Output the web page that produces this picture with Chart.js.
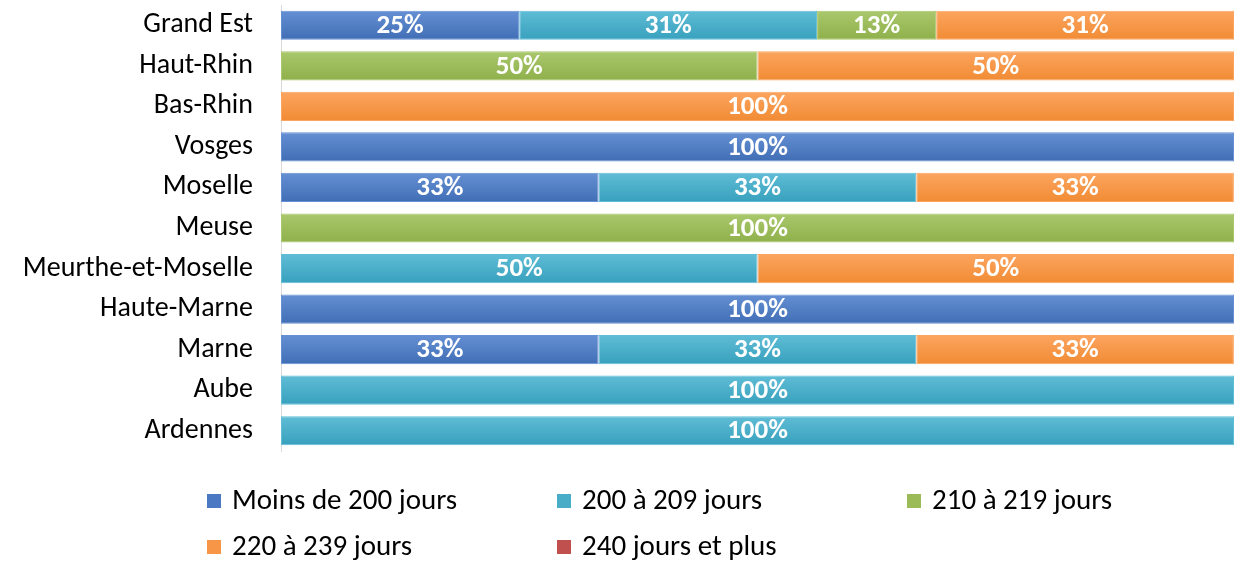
<!DOCTYPE html>
<html>
<head>
<meta charset="utf-8">
<script src="https://cdn.jsdelivr.net/npm/chart.js@4"></script>
<style>
  html, body { margin: 0; padding: 0; background: #fff; }
  #wrap { width: 1234px; height: 563px; }
</style>
</head>
<body>
<div id="wrap"><canvas id="joursGraph"></canvas></div>
<script>
let categories = ['Grand Est', 'Haut-Rhin', 'Bas-Rhin', 'Vosges', 'Moselle', 'Meuse',
  'Meurthe-et-Moselle', 'Haute-Marne', 'Marne', 'Aube', 'Ardennes'];
let seriesNames = ['Moins de 200 jours', '200 à 209 jours', '210 à 219 jours', '220 à 239 jours', '240 jours et plus'];
let moins200 = [25, 0, 0, 100, 33.33, 0, 0, 100, 33.33, 0, 0];
let de200a209 = [31.25, 0, 0, 0, 33.33, 0, 50, 0, 33.33, 100, 100];
let de210a219 = [12.5, 50, 0, 0, 0, 100, 0, 0, 0, 0, 0];
let de220a239 = [31.25, 50, 100, 0, 33.33, 0, 50, 0, 33.33, 0, 0];
let plus240 = [0, 0, 0, 0, 0, 0, 0, 0, 0, 0, 0];
let seriesData = [moins200, de200a209, de210a219, de220a239, plus240];

// top, bottom, legend colour
let colors = [
  ['#6690d4', '#3f6db4', '#4a78c2'],
  ['#60bdd6', '#37a0bd', '#4aadc8'],
  ['#aac86d', '#8eb04a', '#9bbb59'],
  ['#fca560', '#f18b33', '#f79646'],
  ['#d0625f', '#b64340', '#c0504d']
];

let font = "Calibri, Carlito, Lato, sans-serif";

function barGradient(i) {
  return function (c) {
    let sc = c.chart.scales.y;
    if (c.type !== 'data' || !sc) return colors[i][2];
    let yc = sc.getPixelForValue(c.dataIndex);
    if (!isFinite(yc)) return colors[i][2];
    let g = c.chart.ctx.createLinearGradient(0, yc - 15, 0, yc + 15);
    g.addColorStop(0, colors[i][0]);
    g.addColorStop(1, colors[i][1]);
    return g;
  };
}

let datasets = seriesData.map(function (d, i) {
  return {
    label: seriesNames[i],
    data: d,
    backgroundColor: barGradient(i),
    borderColor: colors[i][0],
    borderWidth: 1,
    borderSkipped: false,
    barPercentage: 0.72,
    categoryPercentage: 1
  };
});

// white percentage labels in the middle of each segment
let valueLabels = {
  id: 'valueLabels',
  afterDatasetsDraw(chart) {
    let ctx = chart.ctx;
    ctx.save();
    ctx.font = 'bold 27px ' + font;
    ctx.fillStyle = '#ffffff';
    ctx.textAlign = 'center';
    ctx.textBaseline = 'middle';
    chart.data.datasets.forEach(function (ds, i) {
      chart.getDatasetMeta(i).data.forEach(function (bar, j) {
        let v = ds.data[j];
        if (!v) return;
        ctx.fillText(Math.round(v) + '%', (bar.x + bar.base) / 2, bar.y + 1);
      });
    });
    ctx.restore();
  }
};

// legend laid out in a grid of three columns
let gridLegend = {
  id: 'gridLegend',
  afterDraw(chart) {
    let ctx = chart.ctx;
    ctx.save();
    ctx.font = '29px ' + font;
    ctx.textBaseline = 'middle';
    seriesNames.forEach(function (name, i) {
      let x = 207 + (i % 3) * 350;
      let y = 501 + Math.floor(i / 3) * 46;
      ctx.fillStyle = colors[i][2];
      ctx.fillRect(x, y - 7, 14, 14);
      ctx.fillStyle = '#000';
      ctx.fillText(name, x + 25, y + 1);
    });
    ctx.restore();
  }
};

let myGraph = document.getElementById('joursGraph').getContext('2d');

let graph = new Chart(myGraph, {
  type: 'bar',
  data: {
    labels: categories,
    datasets: datasets
  },
  options: {
    indexAxis: 'y',
    responsive: true,
    maintainAspectRatio: false,
    animation: false,
    layout: { padding: { top: 5, bottom: 112, left: 0, right: 0 } },
    scales: {
      x: { stacked: true, min: 0, max: 100, display: false },
      y: {
        stacked: true,
        grid: { display: false },
        border: { display: true, color: '#d9d9d9', width: 1 },
        ticks: { color: '#000', padding: 20, font: { family: font, size: 28 } },
        afterFit: function (s) {
          s.width = 281;
          s.paddingTop = 0;
          s.paddingBottom = 0;
        }
      }
    },
    plugins: {
      legend: { display: false },
      tooltip: { enabled: false }
    }
  },
  plugins: [valueLabels, gridLegend]
});
</script>
</body>
</html>
